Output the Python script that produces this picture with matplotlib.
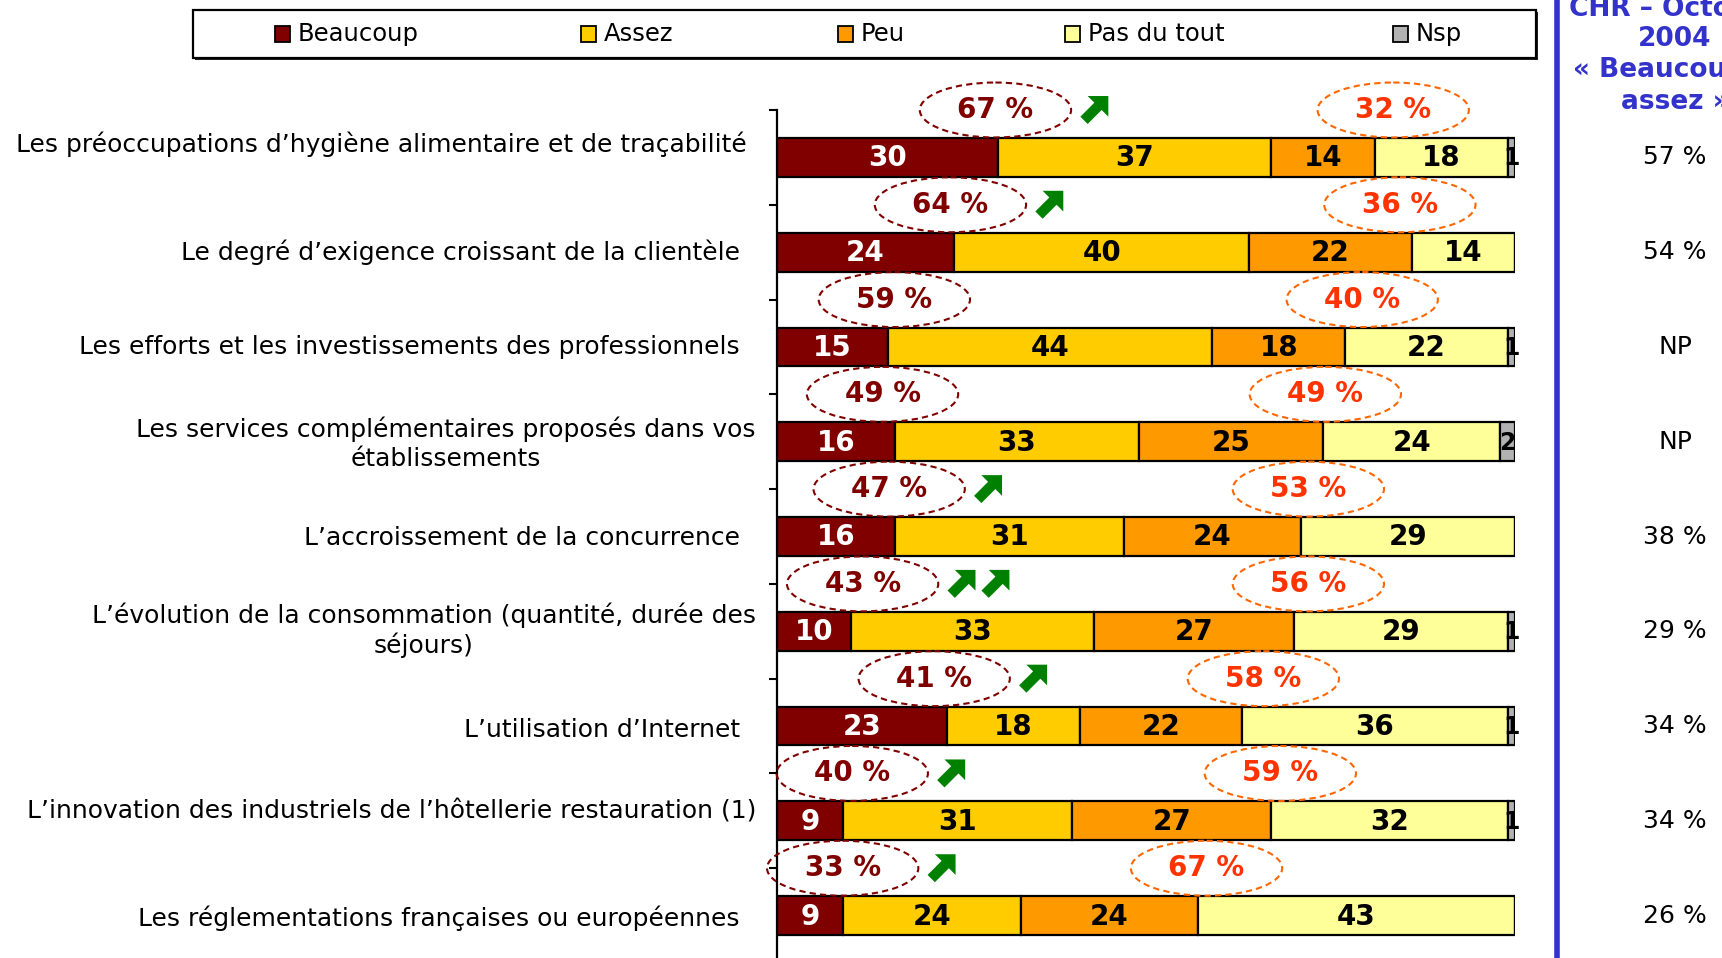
import numpy as np
import matplotlib
matplotlib.use('Agg')
import matplotlib.pyplot as plt
from matplotlib.patches import Ellipse, Rectangle, Polygon
import matplotlib.transforms as mtransforms

# ---------------- data ----------------
categories = [
    "Les préoccupations d’hygiène alimentaire et de traçabilité",
    "Le degré d’exigence croissant de la clientèle",
    "Les efforts et les investissements des professionnels",
    "Les services complémentaires proposés dans vos\nétablissements",
    "L’accroissement de la concurrence",
    "L’évolution de la consommation (quantité, durée des\nséjours)",
    "L’utilisation d’Internet",
    "L’innovation des industriels de l’hôtellerie restauration (1)",
    "Les réglementations françaises ou européennes",
]
series_names = ["Beaucoup", "Assez", "Peu", "Pas du tout", "Nsp"]
beaucoup = [30, 24, 15, 16, 16, 10, 23, 9, 9]
assez = [37, 40, 44, 33, 31, 33, 18, 31, 24]
peu = [14, 22, 18, 25, 24, 27, 22, 27, 24]
pas_du_tout = [18, 14, 22, 24, 29, 29, 36, 32, 43]
nsp = [1, 0, 1, 2, 0, 1, 1, 1, 0]
total_positive = [67, 64, 59, 49, 47, 43, 41, 40, 33]
total_negative = [32, 36, 40, 49, 53, 56, 58, 59, 67]
trend_arrows = [1, 1, 0, 0, 1, 2, 1, 1, 1]
previous_header = ["CHR – Octobre", "2004", "« Beaucoup +", "assez »"]
previous_values = ["57 %", "54 %", "NP", "NP", "38 %", "29 %", "34 %", "34 %", "26 %"]

# ---------------- layout / style ----------------
colors = ["#800000", "#FFCC00", "#FF9900", "#FFFF99", "#B2B2B2"]
text_colors = ["white", "black", "black", "black", "black"]
pos_label_x = [29.6, 23.5, 15.9, 14.3, 15.2, 11.6, 21.3, 10.2, 8.9]
neg_label_x = [83.5, 84.4, 79.3, 74.3, 72.0, 72.0, 65.9, 68.2, 58.2]
label_right_px = [747, 740, 740, 756, 740, 756, 740, 756, 740]
label_dy = [-0.14, 0, 0, 0.02, 0.02, -0.01, 0.04, -0.1, 0.03]
legend_marker_px = [275, 581, 838, 1065, 1393]

W, H = 1722, 958
fig = plt.figure(figsize=(W / 100, H / 100), dpi=100)
fig.patch.set_facecolor("white")
ax = fig.add_axes([777 / W, -5 / H, 738 / W, 853 / H])

n = len(categories)
y = np.arange(n)
series = [beaucoup, assez, peu, pas_du_tout, nsp]
left = np.zeros(n)
for k, (vals, col) in enumerate(zip(series, colors)):
    vals = np.array(vals, dtype=float)
    bars = ax.barh(y, vals, left=left, height=0.41, color=col,
                   edgecolor="black", linewidth=1.6, zorder=2)
    for i, b in enumerate(bars):
        v = vals[i]
        if v <= 0:
            continue
        cx = left[i] + v / 2
        t = ax.text(cx, y[i] + 0.01, f"{int(v)}", ha="center", va="center",
                    fontsize=20 if k < 4 else 17, fontweight="bold",
                    color=text_colors[k], zorder=3)
        if k == 4:
            t.set_clip_path(b)
    left += vals

ax.set_xlim(0, 100)
ax.set_ylim(n - 0.5, -0.5)
for s in ["top", "right", "bottom"]:
    ax.spines[s].set_visible(False)
ax.spines["left"].set_linewidth(1.6)
ax.set_xticks([])
ax.set_yticks(np.arange(-0.5, n - 0.5, 1))
ax.set_yticklabels([])
ax.tick_params(axis="y", direction="out", length=6, width=1.5)

# ellipses with totals
for i in range(n):
    e1 = Ellipse((pos_label_x[i], i - 0.5), width=20.5, height=0.58, fill=False,
                 edgecolor="#800000", linestyle=(0, (3, 2)), linewidth=1.5,
                 clip_on=False, zorder=5)
    ax.add_patch(e1)
    ax.text(pos_label_x[i], i - 0.5, f"{total_positive[i]} %", ha="center",
            va="center", fontsize=20, fontweight="bold", color="#800000",
            zorder=6, clip_on=False)
    e2 = Ellipse((neg_label_x[i], i - 0.5), width=20.5, height=0.58, fill=False,
                 edgecolor="#FF6600", linestyle=(0, (3, 2)), linewidth=1.5,
                 clip_on=False, zorder=5)
    ax.add_patch(e2)
    ax.text(neg_label_x[i], i - 0.5, f"{total_negative[i]} %", ha="center",
            va="center", fontsize=20, fontweight="bold", color="#FF3300",
            zorder=6, clip_on=False)

# green trend arrows
base = np.array([(-1.1, -0.3), (0.05, -0.3), (0.05, -0.85), (0.9, 0.0),
                 (0.05, 0.85), (0.05, 0.3), (-1.1, 0.3)])
rot = np.array([[(x - yy) / np.sqrt(2), (x + yy) / np.sqrt(2)] for x, yy in base])
ctr = (rot.min(axis=0) + rot.max(axis=0)) / 2
arrow_shape = (rot - ctr) * 0.172
for i in range(n):
    for j in range(trend_arrows[i]):
        ax_x = pos_label_x[i] + 13.4 + 4.6 * j
        tr = fig.dpi_scale_trans + mtransforms.ScaledTranslation(ax_x, i - 0.5, ax.transData)
        ax.add_patch(Polygon(arrow_shape, closed=True, facecolor="#008000",
                             edgecolor="none", transform=tr, clip_on=False, zorder=6))

# category labels
blend = mtransforms.blended_transform_factory(fig.transFigure, ax.transData)
for i, c in enumerate(categories):
    fig.text(label_right_px[i] / W, i + label_dy[i], c, ha="right", va="center",
             multialignment="center", fontsize=18, color="black",
             transform=blend, linespacing=1.25)

# right-hand comparison column
fig.add_artist(plt.Line2D([1557 / W, 1557 / W], [0, 1], color="#3333CC",
                          linewidth=4, transform=fig.transFigure))
for line, yy in zip(previous_header, [9, 39, 70, 102]):
    fig.text(1675 / W, 1 - yy / H, line, ha="center", va="center", fontsize=19,
             fontweight="bold", color="#3333CC")
for i, v in enumerate(previous_values):
    fig.text(1675 / W, i, v, ha="center", va="center", fontsize=18,
             color="black", transform=blend)

# legend box
fig.add_artist(Rectangle(((193 + 2) / W, 1 - (58 + 2) / H), (1536 - 193) / W, 48 / H,
                         transform=fig.transFigure, facecolor="#222222",
                         edgecolor="none", zorder=1))
fig.add_artist(Rectangle((193 / W, 1 - 58 / H), (1536 - 193) / W, 48 / H,
                         transform=fig.transFigure, facecolor="white",
                         edgecolor="black", linewidth=1.6, zorder=2))
for name, col, mx in zip(series_names, colors, legend_marker_px):
    fig.add_artist(Rectangle((mx / W, 1 - 42 / H), 15 / W, 16 / H,
                             transform=fig.transFigure, facecolor=col,
                             edgecolor="black", linewidth=1.3, zorder=3))
    fig.text((mx + 23) / W, 1 - 34 / H, name, ha="left", va="center",
             fontsize=17.5, color="black", zorder=4)

fig.savefig("out.png", dpi=100, facecolor="white")
